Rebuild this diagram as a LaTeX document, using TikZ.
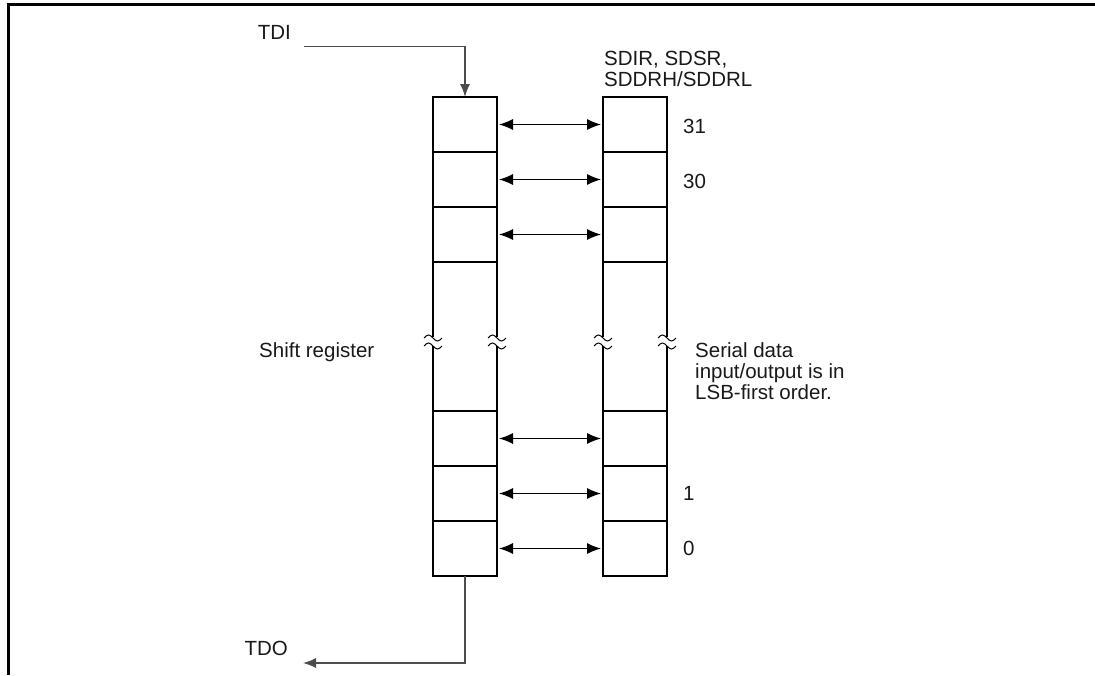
\documentclass[tikz,border=0pt]{standalone}
\usepackage{fontspec}
\setmainfont{Liberation Sans}
\usetikzlibrary{arrows.meta}
\begin{document}
\begin{tikzpicture}[x=1pt,y=-1pt,
  cell/.style={draw, line width=2.8pt, minimum width=64pt, minimum height=55pt, inner sep=0pt, outer sep=0pt},
  side/.style={line width=2.8pt},
  lbl/.style={inner sep=0pt, anchor=base west, font=\fontsize{20.5}{24}\selectfont, text=black!90},
  biarrow/.style={line width=1.2pt, {Latex[length=14pt,width=11pt]}-{Latex[length=14pt,width=11pt]}, shorten <=2pt, shorten >=2pt},
  wire/.style={line width=1.4pt, black!70},
  wave/.style={line width=1pt},
  frame/.style={line width=3pt}
]
\useasboundingbox (0,0) rectangle (1095,675);
% frame (top and left only)
\draw[frame] (8,675) -- (8,4.5) -- (1095,4.5);

% left column cells
\node[cell] (L1) at (465,124.5) {};
\node[cell] (L2) at (465,179.5) {};
\node[cell] (L3) at (465,234.5) {};
\node[cell] (L4) at (465,438.5) {};
\node[cell] (L5) at (465,493.5) {};
\node[cell] (L6) at (465,548.5) {};
% right column cells
\node[cell] (R1) at (635,124.5) {};
\node[cell] (R2) at (635,179.5) {};
\node[cell] (R3) at (635,234.5) {};
\node[cell] (R4) at (635,438.5) {};
\node[cell] (R5) at (635,493.5) {};
\node[cell] (R6) at (635,548.5) {};

% tall broken sections
\foreach \x in {433,497,603,667}{
  \draw[side] (\x,262) -- (\x,337);
  \draw[side] (\x,346) -- (\x,411);
  \draw[wave] (\x-9,338) sin (\x-4.5,335) cos (\x,338) sin (\x+4.5,341) cos (\x+9,338);
  \draw[wave] (\x-9,346) sin (\x-4.5,343) cos (\x,346) sin (\x+4.5,349) cos (\x+9,346);
}

% bidirectional arrows
\foreach \i in {1,...,6}{
  \draw[biarrow] (L\i.east) -- (R\i.west);
}

% TDI / TDO
\node[lbl, anchor=base east] (TDI) at (291,39) {TDI};
\draw[wire, -{Latex[length=13pt,width=10pt]}, shorten <=13pt] ([yshift=-7.5pt]TDI.base east) -| (L1.north);
\node[lbl, anchor=base east] (TDO) at (288,655.5) {TDO};
\draw[wire, -{Latex[length=13pt,width=10pt]}, shorten >=15pt] (L6.south) |- ([yshift=-7.5pt]TDO.base east);

% labels
\node[lbl] (reg1) at (604,65.5) {SDIR, SDSR,};
\node[lbl] (reg2) at (604,86.5) {SDDRH/SDDRL};
\node[lbl] (n31) at (683,133.5) {31};
\node[lbl] (n30) at (683,188.5) {30};
\node[lbl] (n1) at (683,500.5) {1};
\node[lbl] (n0) at (683,555.5) {0};
\node[lbl] (shift) at (259,357.5) {Shift register};
\node[lbl] (s1) at (695,357.5) {Serial data};
\node[lbl] (s2) at (695,378.5) {input/output is in};
\node[lbl] (s3) at (695,399.5) {LSB-first order.};
\end{tikzpicture}
\end{document}
